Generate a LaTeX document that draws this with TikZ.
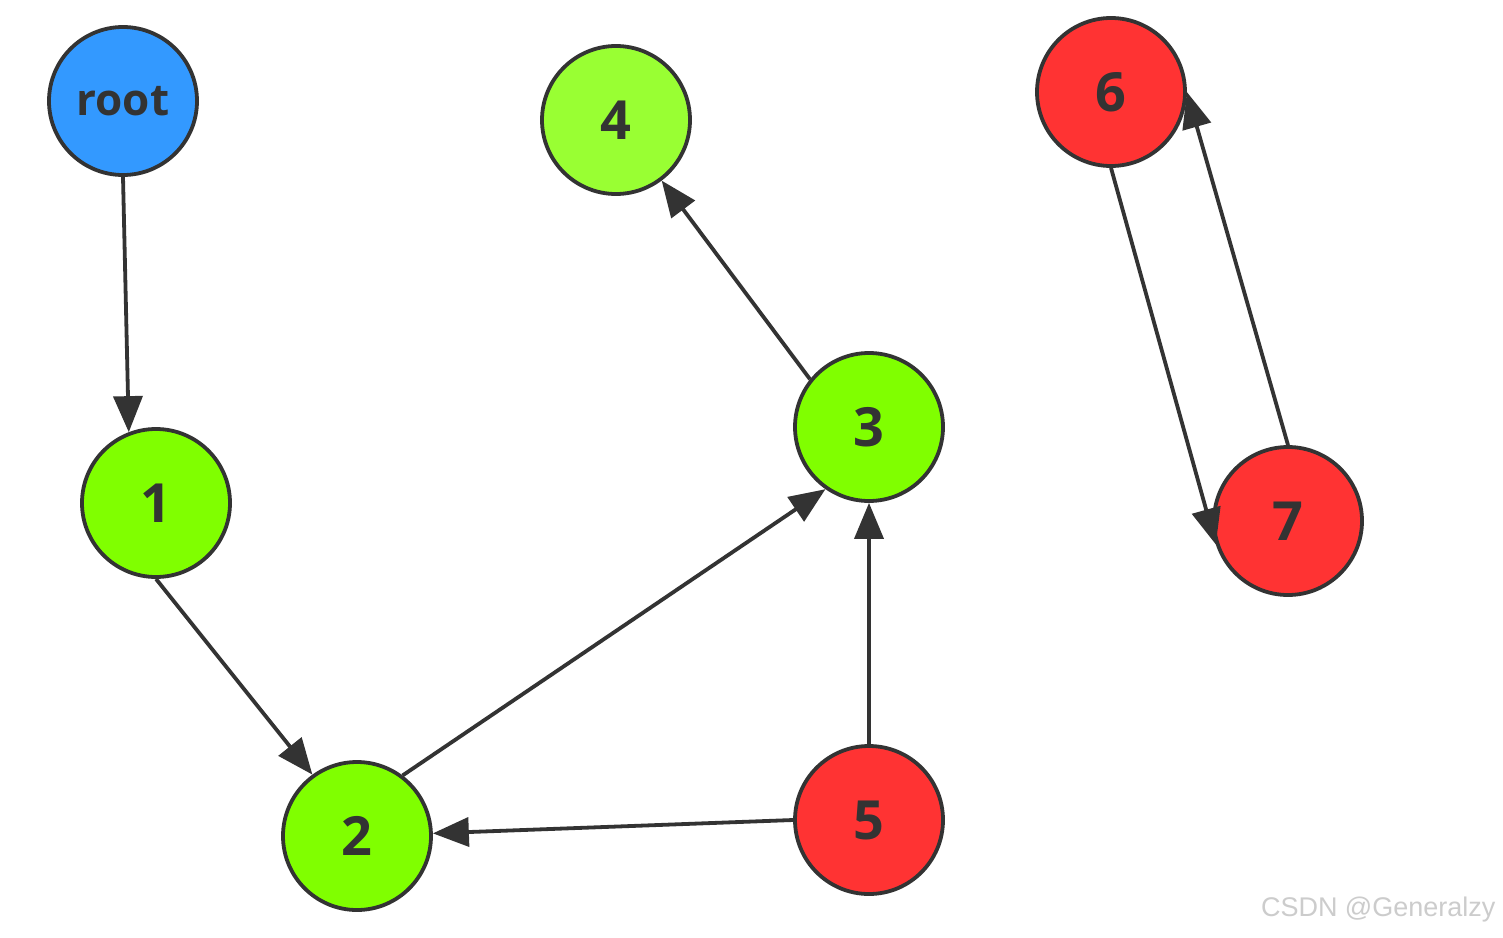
\documentclass[tikz,border=0pt]{standalone}
\usepackage{fontspec}
\setmainfont{Open Sans}
\newfontfamily\wmfont{Liberation Sans}
\usetikzlibrary{arrows.meta}
\definecolor{cblue}{HTML}{3399FF}
\definecolor{cgreen}{HTML}{80FF00}
\definecolor{cgreenb}{HTML}{99FF33}
\definecolor{cred}{HTML}{FF3333}
\definecolor{cline}{HTML}{333333}
\tikzset{
  vtx/.style={circle,draw=cline,line width=3.8pt,minimum size=148pt,inner sep=0pt,
    font=\fontsize{54}{54}\selectfont\bfseries,text=cline},
  edge/.style={draw=cline,line width=3.8pt,-{Triangle[length=36pt,width=29pt]}}
}
\begin{document}
\begin{tikzpicture}[x=1pt,y=-1pt]
\useasboundingbox[fill=white] (0,0) rectangle (1503,937);
\node[vtx,fill=cblue,font=\fontsize{44}{44}\selectfont\bfseries] (root) at (123,101) {root};
\node[vtx,fill=cgreenb] (n4) at (616,120) {4};
\node[vtx,fill=cred] (n6) at (1111,92) {6};
\node[vtx,fill=cgreen] (n1) at (156,503) {1};
\node[vtx,fill=cgreen] (n3) at (869,427) {3};
\node[vtx,fill=cred] (n7) at (1288,521) {7};
\node[vtx,fill=cgreen] (n2) at (357,836) {2};
\node[vtx,fill=cred] (n5) at (869,820) {5};
\draw[edge] (root.south) -- (n1.111);
\draw[edge] (n1.south) -- (n2.126);
\draw[edge] (n2.53) -- (n3.235);
\draw[edge] (n3.141) -- (n4.307);
\draw[edge] (n5.north) -- (n3.south);
\draw[edge] (n5.west) -- (n2.2);
\draw[edge] (n6.south) -- (n7.198);
\draw[edge] (n7.north) -- (n6.east);
\node[anchor=east,text=black!20,font=\wmfont\fontsize{27}{27}\selectfont] (wm) at (1499,910) {CSDN @Generalzy};
\end{tikzpicture}
\end{document}
